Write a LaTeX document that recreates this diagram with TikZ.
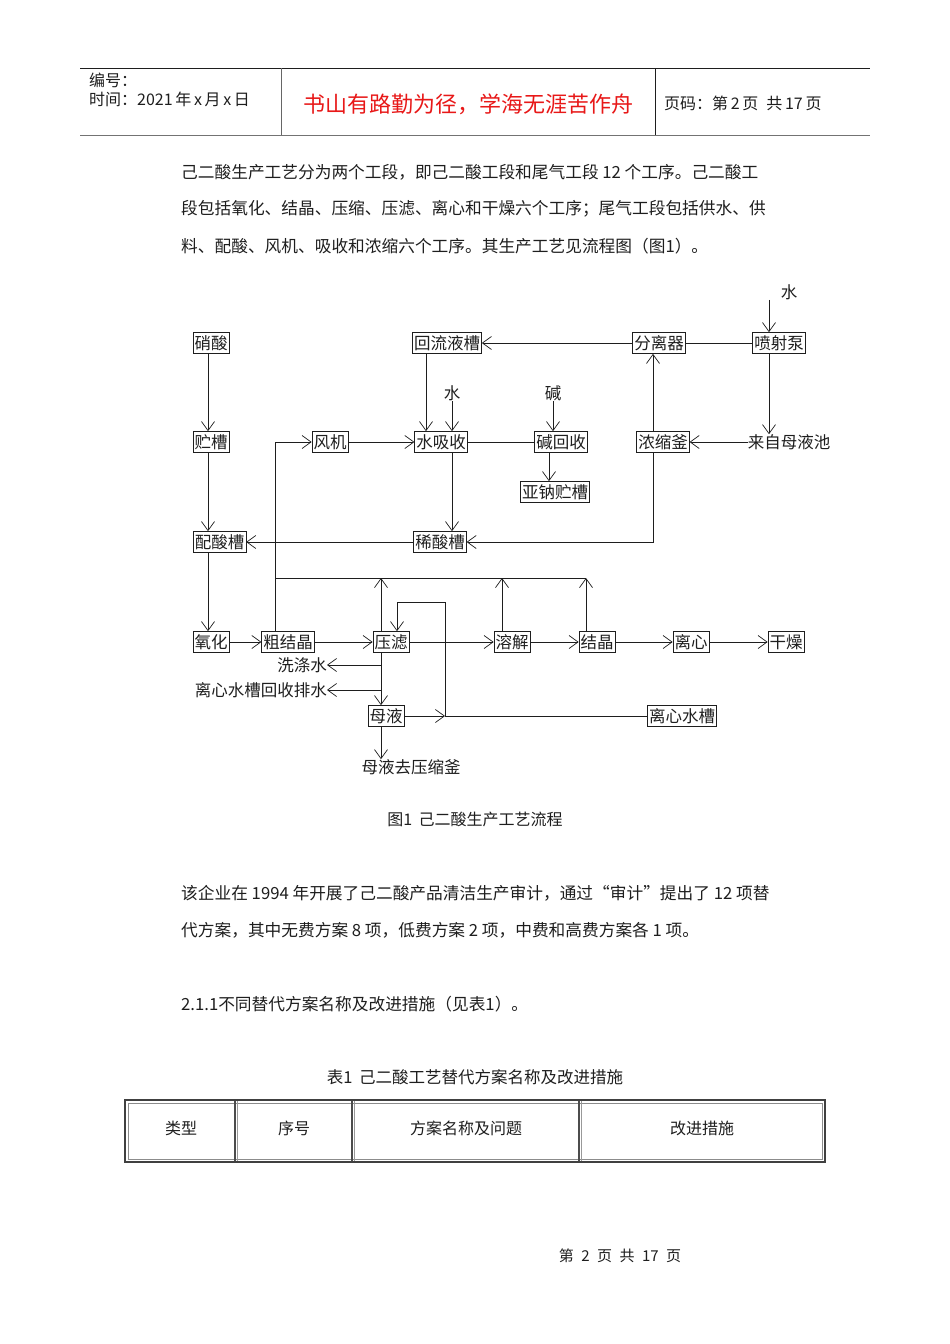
\documentclass[tikz,border=0pt]{standalone}
\usepackage{fontspec}
\setmainfont{Noto Sans CJK SC}
\usetikzlibrary{arrows.meta}
\definecolor{ink}{RGB}{30,30,30}
\definecolor{hred}{RGB}{232,24,24}
\begin{document}
\begin{tikzpicture}[x=1pt,y=-1pt,
  every node/.style={text=ink, inner sep=0pt},
  box/.style={draw=ink, line width=0.7pt, font=\fontsize{16.5}{18}\selectfont, inner xsep=1.5pt, minimum height=21pt},
  lab/.style={font=\fontsize{16.5}{18}\selectfont},
  body/.style={font=\fontsize{16.7}{20}\selectfont, anchor=west},
  hdr/.style={font=\fontsize{16}{18}\selectfont, anchor=west},
  ln/.style={draw=ink, line width=0.7pt},
  arr/.style={ln, -{Straight Barb[length=9pt,width=13pt,line width=0.7pt]}}]
\fill[white] (0,0) rectangle (950,1344);
\useasboundingbox (0,0) rectangle (950,1344);

% ---------- header ----------
\draw[line width=0.8pt, ink] (80,68) -- (870,68);
\draw[line width=1.6pt, black!55] (80,135.5) -- (870,135.5);
\draw[line width=0.8pt, black!60] (281,68) -- (281,135);
\draw[line width=0.8pt, ink] (655,68) -- (655,135);
\node[hdr] (bh) at (89,80) {编号：};
\node[hdr] (sj) at (89,99) {时间：2021\,年\,x\,月\,x\,日};
\node[font=\fontsize{22}{24}\selectfont, text=hred] (motto) at (468,104) {书山有路勤为径，学海无涯苦作舟};
\node[hdr] (ym) at (664,103) {页码：第\,2\,页\enspace 共\,17\,页};

% ---------- paragraph 1 ----------
\node[body] (p1) at (181,172) {己二酸生产工艺分为两个工段，即己二酸工段和尾气工段 12 个工序。己二酸工};
\node[body] (p2) at (181,209) {段包括氧化、结晶、压缩、压滤、离心和干燥六个工序；尾气工段包括供水、供};
\node[body] (p3) at (181,246) {料、配酸、风机、吸收和浓缩六个工序。其生产工艺见流程图（图1）。};

% ---------- flow diagram nodes ----------
\node[box] (xs)  at (211,343) {硝酸};
\node[box] (zc)  at (211,442) {贮槽};
\node[box, anchor=west] (pcs) at (193,542) {配酸槽};
\node[box] (yh)  at (211,642) {氧化};
\node[box] (cjj) at (288,642) {粗结晶};
\node[box] (yl)  at (391,642) {压滤};
\node[box] (rj)  at (512,642) {溶解};
\node[box] (jj)  at (597,642) {结晶};
\node[box] (lx)  at (691,642) {离心};
\node[box] (gz)  at (786,642) {干燥};
\node[box] (fj)  at (330,442) {风机};
\node[box] (sxs) at (441,442) {水吸收};
\node[box] (jhs) at (561,442) {碱回收};
\node[box] (nzc) at (555,492) {亚钠贮槽};
\node[box] (xsc) at (440,542) {稀酸槽};
\node[box] (hly) at (447,343) {回流液槽};
\node[box] (flq) at (659,343) {分离器};
\node[box] (pb)  at (779,343) {喷射泵};
\node[box] (nsf) at (663,442) {浓缩釜};
\node[lab] (lz)  at (789,442) {来自母液池};
\node[lab] (w2)  at (789,292) {水};
\node[lab] (w1)  at (452,393) {水};
\node[lab] (jian) at (553,393) {碱};
\node[box] (my)  at (386,716) {母液};
\node[box] (lxsc) at (682,716) {离心水槽};
\node[lab, anchor=east] (xdw) at (327,665) {洗涤水};
\node[lab, anchor=east] (lhp) at (327,690) {离心水槽回收排水};
\node[lab] (mq)  at (411,767) {母液去压缩釜};

% column / level coordinates
\coordinate (xL) at (208,0);
\coordinate (xG) at (275,0);
\coordinate (x381) at (381,0);
\coordinate (x502) at (502,0);
\coordinate (x586) at (586,0);
\coordinate (x426) at (426,0);
\coordinate (x452) at (452,0);
\coordinate (x549) at (549,0);
\coordinate (x653) at (653,0);
\coordinate (x769) at (769,0);
\coordinate (hline) at (0,578);
\coordinate (J) at (445,716);
\coordinate (K) at (397,602);

% ---------- connectors ----------
\draw[arr] (xL |- xs.south) -- (xL |- zc.north);
\draw[arr] (xL |- zc.south) -- (xL |- pcs.north);
\draw[arr] (xL |- pcs.south) -- (xL |- yh.north);
\draw[arr] (yh.east) -- (cjj.west);
\draw[arr] (cjj.east) -- (yl.west);
\draw[arr] (yl.east) -- (rj.west);
\draw[arr] (rj.east) -- (jj.west);
\draw[arr] (jj.east) -- (lx.west);
\draw[arr] (lx.east) -- (gz.west);

\draw[arr] (xG |- cjj.north) -- (xG |- fj.west) -- (fj.west);
\draw[ln] (xG |- hline) -- (x586 |- hline);
\draw[arr] (x381 |- yl.north) -- (x381 |- hline);
\draw[arr] (x502 |- rj.north) -- (x502 |- hline);
\draw[arr] (x586 |- jj.north) -- (x586 |- hline);

\draw[arr] (fj.east) -- (sxs.west);
\draw[ln] (jhs.west) -- (sxs.east);
\draw[arr] (x452 |- w1.south) -- (x452 |- sxs.north);
\draw[arr] (x426 |- hly.south) -- (x426 |- sxs.north);
\draw[arr] (jian.south) -- (jian.south |- jhs.north);
\draw[arr] (x549 |- jhs.south) -- (x549 |- nzc.north);
\draw[arr] (x452 |- sxs.south) -- (x452 |- xsc.north);
\draw[arr] (xsc.west) -- (pcs.east);
\draw[arr] (x653 |- nsf.south) |- (xsc.east);
\draw[arr] (x653 |- nsf.north) -- (x653 |- flq.south);
\draw[arr] (flq.west) -- (hly.east);
\draw[ln] (pb.west) -- (flq.east);
\draw[arr] (x769 |- w2.south) -- (x769 |- pb.north);
\draw[arr] (x769 |- pb.south) -- (x769 |- lz.north);
\draw[arr] (lz.west) -- (nsf.east);

\draw[arr] (x381 |- yl.south) -- (x381 |- my.north);
\draw[arr] (x381 |- xdw) -- (xdw.east);
\draw[arr] (x381 |- lhp) -- (lhp.east);
\draw[arr] (x381 |- my.south) -- (x381 |- mq.north);
\draw[arr] (my.east) -- (J);
\draw[ln] (lxsc.west) -- (J);
\draw[arr] (J) |- (K) -- (K |- yl.north);

% ---------- caption & paragraph 2 ----------
\node[font=\fontsize{16}{18}\selectfont] (cap) at (475,819) {图1\, 己二酸生产工艺流程};
\node[body] (q1) at (181,893) {该企业在 1994 年开展了己二酸产品清洁生产审计，通过“审计”提出了 12 项替};
\node[body] (q2) at (181,930) {代方案，其中无费方案 8 项，低费方案 2 项，中费和高费方案各 1 项。};
\node[body] (q3) at (181,1004) {2.1.1不同替代方案名称及改进措施（见表1）。};
\node[font=\fontsize{16.5}{18}\selectfont] (tt) at (475,1077) {表1\, 己二酸工艺替代方案名称及改进措施};

% ---------- table ----------
\draw[line width=2pt, black!75] (125,1100) rectangle (825,1162);
\draw[line width=0.6pt, black!45] (128,1103) rectangle (822,1159);
\foreach \cx/\nm in {235/d1, 352/d2, 579/d3} {
  \draw[line width=1.2pt, black!70] (\cx,1101) -- (\cx,1161);
  \draw[line width=0.6pt, black!40] (\cx+2.5,1101) -- (\cx+2.5,1161);
}
\node[font=\fontsize{16}{18}\selectfont] (t1) at (181,1128) {类型};
\node[font=\fontsize{16}{18}\selectfont] (t2) at (294,1128) {序号};
\node[font=\fontsize{16}{18}\selectfont] (t3) at (466,1128) {方案名称及问题};
\node[font=\fontsize{16}{18}\selectfont] (t4) at (702,1128) {改进措施};

% ---------- footer ----------
\node[font=\fontsize{15}{16}\selectfont] (ft) at (620,1256) {第\enspace 2\enspace 页\enspace 共\enspace 17\enspace 页};
\end{tikzpicture}
\end{document}
